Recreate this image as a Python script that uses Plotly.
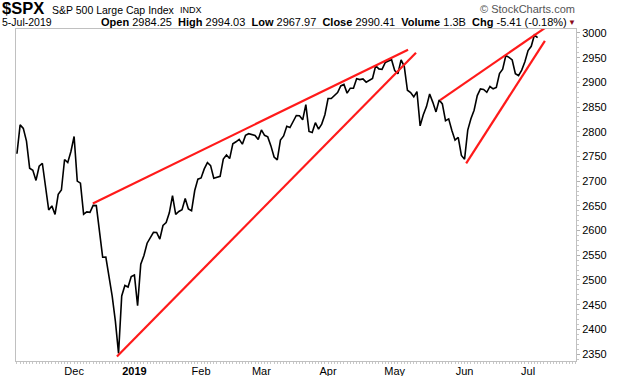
import plotly.graph_objects as go

# ---------------- data ----------------
dates = [
    "2018-11-06","2018-11-07","2018-11-08","2018-11-09","2018-11-12","2018-11-13","2018-11-14","2018-11-15","2018-11-16",
    "2018-11-19","2018-11-20","2018-11-21","2018-11-23","2018-11-26","2018-11-27","2018-11-28","2018-11-29","2018-11-30",
    "2018-12-03","2018-12-04","2018-12-06","2018-12-07","2018-12-10","2018-12-11","2018-12-12","2018-12-13","2018-12-14",
    "2018-12-17","2018-12-18","2018-12-19","2018-12-20","2018-12-21","2018-12-24","2018-12-26","2018-12-27","2018-12-28","2018-12-31",
    "2019-01-02","2019-01-03","2019-01-04","2019-01-07","2019-01-08","2019-01-09","2019-01-10","2019-01-11","2019-01-14","2019-01-15",
    "2019-01-16","2019-01-17","2019-01-18","2019-01-22","2019-01-23","2019-01-24","2019-01-25","2019-01-28","2019-01-29","2019-01-30","2019-01-31",
    "2019-02-01","2019-02-04","2019-02-05","2019-02-06","2019-02-07","2019-02-08","2019-02-11","2019-02-12","2019-02-13","2019-02-14",
    "2019-02-15","2019-02-19","2019-02-20","2019-02-21","2019-02-22","2019-02-25","2019-02-26","2019-02-27","2019-02-28",
    "2019-03-01","2019-03-04","2019-03-05","2019-03-06","2019-03-07","2019-03-08","2019-03-11","2019-03-12","2019-03-13","2019-03-14",
    "2019-03-15","2019-03-18","2019-03-19","2019-03-20","2019-03-21","2019-03-22","2019-03-25","2019-03-26","2019-03-27","2019-03-28","2019-03-29",
    "2019-04-01","2019-04-02","2019-04-03","2019-04-04","2019-04-05","2019-04-08","2019-04-09","2019-04-10","2019-04-11","2019-04-12",
    "2019-04-15","2019-04-16","2019-04-17","2019-04-18","2019-04-22","2019-04-23","2019-04-24","2019-04-25","2019-04-26","2019-04-29","2019-04-30",
    "2019-05-01","2019-05-02","2019-05-03","2019-05-06","2019-05-07","2019-05-08","2019-05-09","2019-05-10","2019-05-13","2019-05-14","2019-05-15",
    "2019-05-16","2019-05-17","2019-05-20","2019-05-21","2019-05-22","2019-05-23","2019-05-24","2019-05-28","2019-05-29","2019-05-30","2019-05-31",
    "2019-06-03","2019-06-04","2019-06-05","2019-06-06","2019-06-07","2019-06-10","2019-06-11","2019-06-12","2019-06-13","2019-06-14",
    "2019-06-17","2019-06-18","2019-06-19","2019-06-20","2019-06-21","2019-06-24","2019-06-25","2019-06-26","2019-06-27","2019-06-28",
    "2019-07-01","2019-07-02","2019-07-03","2019-07-05",
]
closes = [
    2755.45, 2813.89, 2806.83, 2781.01, 2726.22, 2722.18, 2701.58, 2730.20, 2736.27,
    2690.73, 2641.89, 2649.93, 2632.56, 2673.45, 2682.17, 2743.79, 2737.80, 2760.17,
    2790.37, 2700.06, 2695.95, 2633.08, 2637.72, 2636.78, 2651.07, 2650.54, 2599.95,
    2545.94, 2546.16, 2506.96, 2467.42, 2416.62, 2351.10, 2467.70, 2488.83, 2485.74, 2506.85,
    2510.03, 2447.89, 2531.94, 2549.69, 2574.41, 2584.96, 2596.64, 2596.26, 2582.61, 2610.30,
    2616.10, 2635.96, 2670.71, 2632.90, 2638.70, 2642.33, 2664.76, 2643.85, 2640.00, 2681.05, 2704.10,
    2706.53, 2724.87, 2737.70, 2731.61, 2706.05, 2707.88, 2709.80, 2744.73, 2753.03, 2745.73,
    2775.60, 2779.76, 2784.70, 2774.88, 2792.67, 2796.11, 2793.90, 2792.38, 2784.49,
    2803.69, 2792.81, 2789.65, 2771.45, 2748.93, 2743.07, 2783.30, 2791.52, 2810.92, 2808.48,
    2822.48, 2832.94, 2832.57, 2824.23, 2854.88, 2800.71, 2798.36, 2818.46, 2805.37, 2815.44, 2834.40,
    2867.19, 2867.24, 2873.40, 2879.39, 2892.74, 2895.77, 2878.20, 2888.21, 2888.32, 2907.41,
    2905.58, 2907.06, 2900.45, 2905.03, 2907.97, 2933.68, 2927.25, 2926.17, 2939.88, 2943.03, 2945.83,
    2923.73, 2917.52, 2945.64, 2932.47, 2884.05, 2879.42, 2870.72, 2881.40, 2811.87, 2834.41, 2850.96,
    2876.32, 2859.53, 2840.23, 2864.36, 2856.27, 2822.24, 2826.06, 2802.39, 2783.02, 2788.86, 2752.06,
    2744.45, 2803.27, 2826.15, 2843.49, 2873.34, 2886.73, 2885.72, 2879.84, 2891.64, 2886.98,
    2889.67, 2917.75, 2926.46, 2954.18, 2950.46, 2945.35, 2917.38, 2913.78, 2924.92, 2941.76,
    2964.33, 2973.01, 2995.82, 2990.41,
]
month_names = ["Dec", "<b>2019</b>", "Feb", "Mar", "Apr", "May", "Jun", "Jul"]
y_ticks = [2350, 2400, 2450, 2500, 2550, 2600, 2650, 2700, 2750, 2800, 2850, 2900, 2950, 3000]

# trend lines: start/end as (trading-day index, price)
trend_x0 = [23.9, 31.5, 133.3, 141.5]
trend_y0 = [2655, 2345, 2864, 2736]
trend_x1 = [123.2, 125.7, 166.3, 166.3]
trend_y1 = [2966, 2960, 3010, 2984]

# ---------------- figure ----------------
xs = list(range(len(dates)))
tickvals = []
prev = dates[0][:7]
for i, d in enumerate(dates):
    if d[:7] != prev:
        tickvals.append(i)
        prev = d[:7]

FONT = "Liberation Sans, Arial, sans-serif"
fig = go.Figure()
fig.add_trace(go.Scatter(x=xs, y=closes, mode="lines",
                         line=dict(color="black", width=1.6), hoverinfo="skip"))
for a, b, c, d in zip(trend_x0, trend_y0, trend_x1, trend_y1):
    fig.add_trace(go.Scatter(x=[a, c], y=[b, d], mode="lines",
                             line=dict(color="#ff1a1a", width=2.2), hoverinfo="skip"))

W, H = 620, 376
L, R, T, B = 16, 44, 29, 15
pw, ph = W - L - R, H - T - B


def px(xp):
    return (xp - L) / pw


def py(yp):
    return (H - B - yp) / ph


anns = [
    dict(x=px(0), y=py(8.5), text="<b>$SPX</b>", font=dict(size=16.5, color="black")),
    dict(x=px(50), y=py(10), text="S&P 500 Large Cap Index", font=dict(size=10.5, color="black")),
    dict(x=px(178), y=py(10), text="INDX", font=dict(size=9, color="black")),
    dict(x=px(577), y=py(9), text="© StockCharts.com", font=dict(size=11, color="#555555"), xanchor="right"),
    dict(x=px(0), y=py(22.5), text="5-Jul-2019", font=dict(size=10.5, color="black")),
    dict(x=px(99), y=py(22.5),
         text="<b>Open</b> 2984.25  <b>High</b> 2994.03  <b>Low</b> 2967.97  <b>Close</b> 2990.41  "
              "<b>Volume</b> 1.3B  <b>Chg</b> -5.41 (-0.18%)",
         font=dict(size=11, color="black")),
    dict(x=px(566), y=py(22.5), text="▼", font=dict(size=8, color="#8b0a1a")),
]
for a in anns:
    a.setdefault("xanchor", "left")
    a.update(xref="paper", yref="paper", yanchor="middle", showarrow=False)

fig.update_layout(
    width=W, height=H, margin=dict(l=L, r=R, t=T, b=B),
    paper_bgcolor="white", plot_bgcolor="white", showlegend=False,
    font=dict(family=FONT, size=11, color="black"),
    annotations=anns,
    xaxis=dict(range=[-0.3, 176.1], tickvals=tickvals, ticktext=month_names, automargin=False,
               showgrid=False, zeroline=False, showline=True, linecolor="#c0c0c0", linewidth=1,
               mirror=True, ticks="", tickfont=dict(size=11, family=FONT),
               minor=dict(ticks="outside", ticklen=2, dtick=1, tickcolor="#c8c8c8")),
    yaxis=dict(range=[2336, 3008], side="right", tickvals=y_ticks, automargin=False,
               showgrid=False, zeroline=False, showline=True, linecolor="#c0c0c0", linewidth=1,
               mirror=True, ticks="outside", ticklen=3, tickcolor="#b0b0b0",
               tickfont=dict(size=11, family=FONT),
               minor=dict(ticks="outside", ticklen=2, dtick=10, tickcolor="#c8c8c8")),
)
fig.write_html("out.html", config={"displayModeBar": False},
               post_script="document.body.style.margin='0px';")
